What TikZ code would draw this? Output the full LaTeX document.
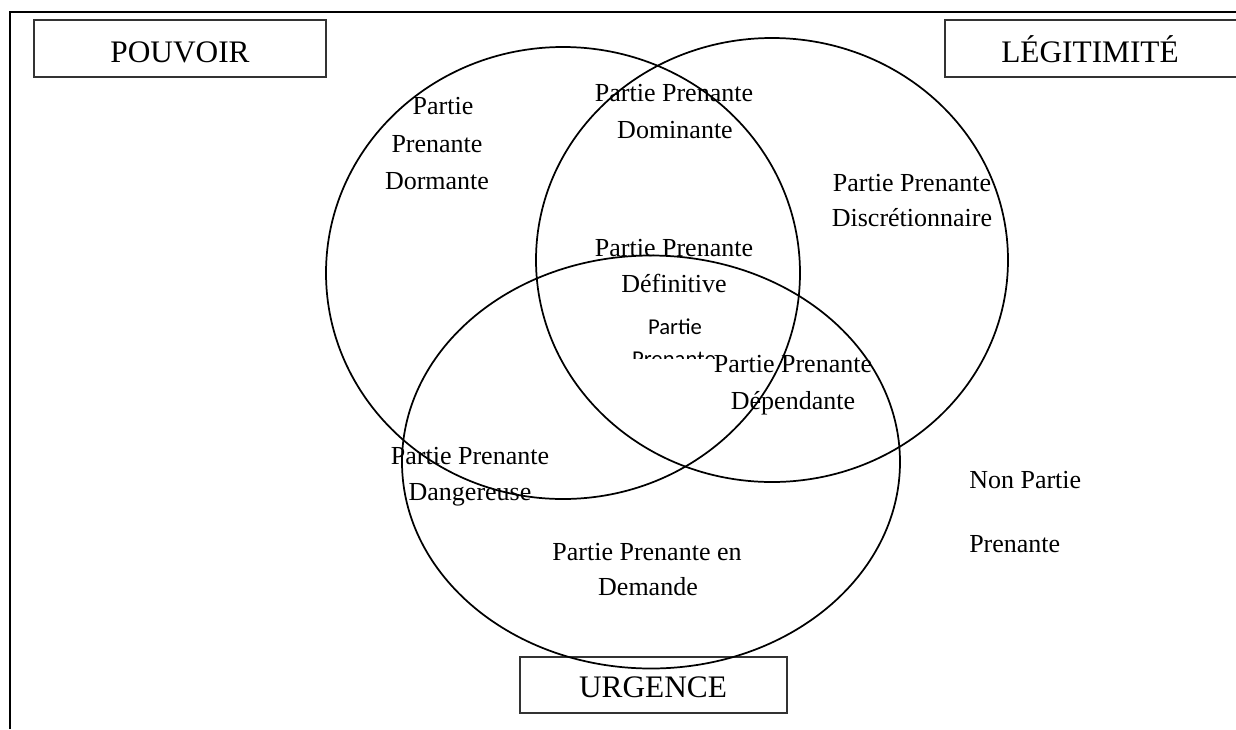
\documentclass[tikz,border=0pt]{standalone}
\usepackage{fontspec}
\setmainfont{Liberation Serif}
\newfontfamily\calib{Carlito}
\usetikzlibrary{shapes.geometric}
\begin{document}
\begin{tikzpicture}[x=0.75pt,y=-0.75pt,
  lbl/.style={anchor=base,inner sep=0pt,font=\fontsize{19.5}{24}\selectfont},
  sanslbl/.style={anchor=base,inner sep=0pt,font=\calib\fontsize{17}{20}\selectfont},
  ttl/.style={anchor=base,inner sep=0pt,font=\fontsize{23.5}{28}\selectfont},
  titlebox/.style={draw=black!80,line width=0.9pt},
  set/.style={draw,ellipse,line width=1.3pt,inner sep=0pt}]
\useasboundingbox (0,0) rectangle (1236,729);
% page frame (top and left rules)
\coordinate (fl) at (10,729);
\coordinate (fc) at (10,12);
\coordinate (fr) at (1236,12);
\draw[line width=2pt] (fl) -- (fc) -- (fr);
% title boxes
\draw[titlebox] (34,20) rectangle (326,77);
\draw[titlebox] (1240,20) -- (945,20) -- (945,77) -- (1240,77);
\draw[titlebox] (520,657) rectangle (787,713);
\node[ttl] (tpouv) at (180,62) {POUVOIR};
\node[ttl] (tlegi) at (1090,62) {LÉGITIMITÉ};
\node[ttl] (turge) at (653,697) {URGENCE};
% the three sets
\node[set,minimum width=355.5pt,minimum height=339pt] (cpouv) at (563,273) {};
\node[set,minimum width=354pt,minimum height=333pt] (clegi) at (772,260) {};
\node[set,minimum width=373.5pt,minimum height=309.75pt] (curge) at (651,462) {};
% region labels
\node[lbl] (dor1) at (443,114) {Partie};
\node[lbl] (dor2) at (437,152) {Prenante};
\node[lbl] (dor3) at (437,189) {Dormante};
\node[lbl] (dom1) at (674,101) {Partie Prenante};
\node[lbl] (dom2) at (675,138) {Dominante};
\node[lbl] (dis1) at (912,191) {Partie Prenante};
\node[lbl] (dis2) at (912,226) {Discrétionnaire};
\node[lbl] (def1) at (674,256) {Partie Prenante};
\node[lbl] (def2) at (674,292) {Définitive};
\begin{scope}
  \clip (600,300) rectangle (760,358);
  \node[sanslbl] (cal1) at (675,334) {Partie};
  \node[sanslbl] (cal2) at (674,366) {Prenante};
\end{scope}
\node[lbl] (dep1) at (793,372) {Partie Prenante};
\node[lbl] (dep2) at (793,409) {Dépendante};
\node[lbl] (dan1) at (470,464) {Partie Prenante};
\node[lbl] (dan2) at (470,500) {Dangereuse};
\node[lbl] (dem1) at (647,560) {Partie Prenante en};
\node[lbl] (dem2) at (648,595) {Demande};
\node[lbl,anchor=base west] (non1) at (969,488) {Non Partie};
\node[lbl,anchor=base west] (non2) at (969,552) {Prenante};
\end{tikzpicture}
\end{document}
